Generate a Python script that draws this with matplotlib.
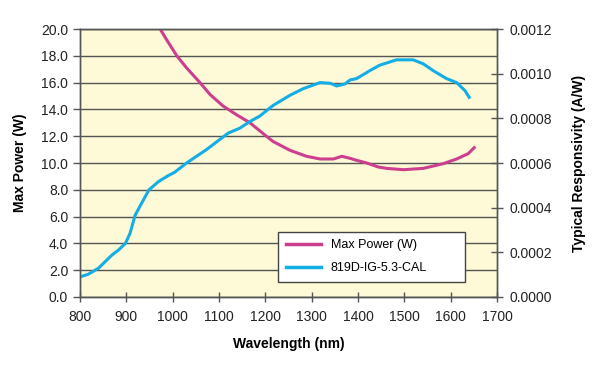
import matplotlib
matplotlib.use("Agg")
import matplotlib.pyplot as plt
from matplotlib.lines import Line2D

plt.rcParams['font.family'] = ['Liberation Sans', 'DejaVu Sans']

# Max Power (W) vs wavelength (nm)
power_wl = [960, 973, 987, 1009, 1030, 1059, 1081, 1109, 1138, 1167, 1188, 1206,
            1217, 1253, 1289, 1318, 1347, 1365, 1383, 1397, 1419, 1444, 1462, 1498,
            1541, 1584, 1613, 1638, 1651]
power_w = [20.8, 20.0, 19.2, 18.0, 17.1, 16.0, 15.1, 14.25, 13.6, 13.0, 12.4, 11.9,
           11.6, 10.95, 10.5, 10.3, 10.3, 10.5, 10.35, 10.2, 10.0, 9.7, 9.6, 9.5,
           9.6, 9.95, 10.3, 10.7, 11.15]

# 819D-IG-5.3-CAL typical responsivity (A/W) vs wavelength (nm)
resp_wl = [800, 818, 840, 869, 883, 898, 908, 919, 933, 949, 969, 990, 1004, 1030,
           1073, 1120, 1145, 1167, 1188, 1206, 1217, 1253, 1282, 1318, 1340, 1354,
           1372, 1383, 1397, 1426, 1447, 1483, 1519, 1541, 1562, 1591, 1613, 1631,
           1640]
resp_aw = [0.000090, 0.000102, 0.000129, 0.000188, 0.000210, 0.000240, 0.000285,
           0.000366, 0.000420, 0.000480, 0.000516, 0.000543, 0.000558, 0.000600,
           0.000660, 0.000734, 0.000756, 0.000786, 0.000810, 0.000840, 0.000858,
           0.000903, 0.000933, 0.000960, 0.000957, 0.000945, 0.000954, 0.000972,
           0.000978, 0.001014, 0.001038, 0.001062, 0.001062, 0.001044, 0.001014,
           0.000978, 0.000960, 0.000924, 0.000894]

left_ticks = [0, 2, 4, 6, 8, 10, 12, 14, 16, 18, 20]
right_ticks = [0, 0.0002, 0.0004, 0.0006, 0.0008, 0.0010, 0.0012]
x_ticks = [800, 900, 1000, 1100, 1200, 1300, 1400, 1500, 1600, 1700]

magenta = '#CC3F8E'
blue = '#14AEE6'
gridc = '#555555'

fig = plt.figure(figsize=(6, 3.7), dpi=100)
ax = fig.add_axes([0.1333, 0.1973, 0.695, 0.7243])
ax.set_facecolor('#FEF9D6')
ax2 = ax.twinx()

ax.plot(power_wl, power_w, color=magenta, lw=2.2, zorder=3)
ax2.plot(resp_wl, resp_aw, color=blue, lw=2.2)

ax.set_xlim(800, 1700)
ax.set_ylim(0, 20)
ax2.set_ylim(0, 0.0012)
ax.set_xticks(x_ticks)
ax.set_yticks(left_ticks)
ax.set_yticklabels(['%.1f' % v for v in left_ticks])
ax2.set_yticks(right_ticks)
ax2.set_yticklabels(['%.4f' % v for v in right_ticks])

ax.grid(axis='y', color=gridc, lw=1.0)
ax.set_axisbelow(True)
for a in (ax, ax2):
    for s in a.spines.values():
        s.set_color(gridc)
        s.set_linewidth(1.0)
ax.tick_params(axis='both', labelsize=10, colors='#222222', length=5, width=1, color=gridc)
ax.tick_params(axis='x', direction='inout', length=7, pad=6)
ax2.tick_params(axis='y', labelsize=10, colors='#222222', direction='inout', length=8,
                width=1, color=gridc, pad=5)

ax.set_xlabel('Wavelength (nm)', fontsize=10, fontweight='bold', labelpad=9)
ax.set_ylabel('Max Power (W)', fontsize=10, fontweight='bold', labelpad=10)
ax2.set_ylabel('Typical Responsivity (A/W)', fontsize=10, fontweight='bold', labelpad=14)

handles = [Line2D([], [], color=magenta, lw=2.5), Line2D([], [], color=blue, lw=2.5)]
leg = ax2.legend(handles, ['Max Power (W)', '819D-IG-5.3-CAL'], loc='lower left',
                 bbox_to_anchor=(0.475, 0.056, 0.448, 0.19), mode='expand',
                 borderaxespad=0, fontsize=9, fancybox=False, framealpha=1,
                 edgecolor='#444444', handlelength=2.8, borderpad=0.6,
                 labelspacing=0.9)
leg.get_frame().set_linewidth(1.0)

fig.savefig('out.png', dpi=100)
